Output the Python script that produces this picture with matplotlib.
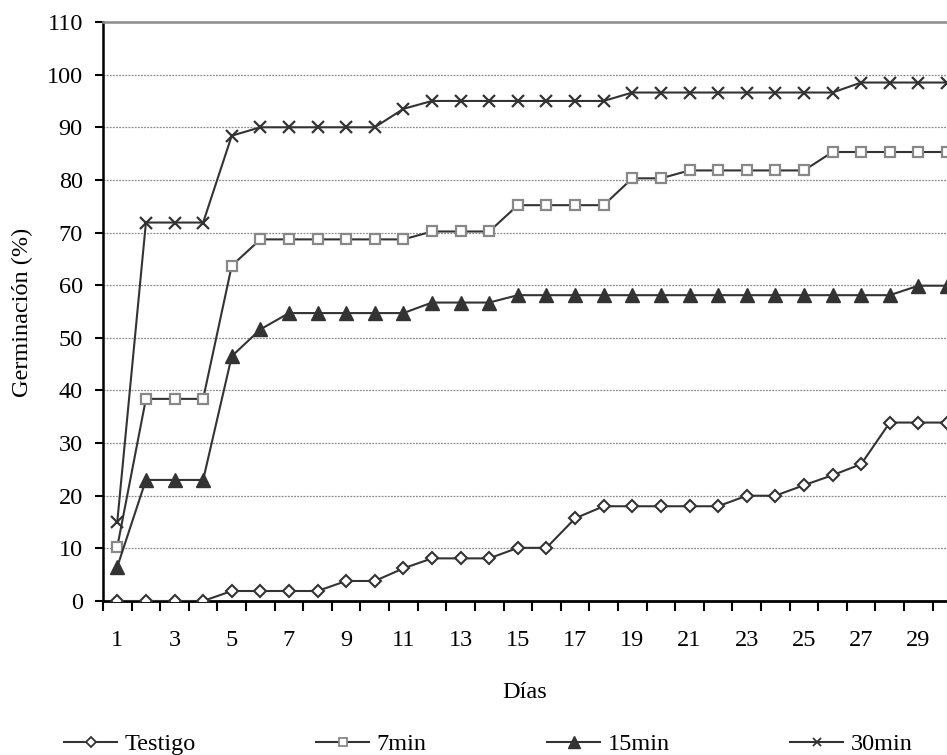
import matplotlib
matplotlib.use("Agg")
import matplotlib.pyplot as plt
from matplotlib.lines import Line2D

plt.rcParams['font.family'] = ['Liberation Serif', 'DejaVu Serif']

dias = list(range(1, 31))
tick_labels = [str(d) for d in range(1, 30, 2)]

testigo = [0, 0, 0, 0, 1.9, 1.9, 1.9, 1.9, 3.8, 3.8, 6.2, 8.1, 8.1, 8.1, 10.1,
           10.1, 15.7, 18.0, 18.0, 18.0, 18.0, 18.0, 20.0, 20.0, 22.0, 23.9, 26.0, 33.9, 33.9, 33.9]
min7 = [10.3, 38.4, 38.4, 38.4, 63.7, 68.7, 68.7, 68.7, 68.7, 68.7, 68.7, 70.2, 70.2, 70.2, 75.2,
        75.2, 75.2, 75.2, 80.3, 80.3, 81.8, 81.8, 81.8, 81.8, 81.8, 85.3, 85.3, 85.3, 85.3, 85.3]
min15 = [6.5, 23.0, 23.0, 23.0, 46.5, 51.6, 54.7, 54.7, 54.7, 54.7, 54.7, 56.7, 56.7, 56.7, 58.1,
         58.1, 58.1, 58.1, 58.1, 58.1, 58.1, 58.1, 58.1, 58.1, 58.1, 58.1, 58.1, 58.1, 59.9, 59.9]
min30 = [15.1, 71.9, 71.9, 71.9, 88.4, 90.0, 90.0, 90.0, 90.0, 90.0, 93.5, 95.0, 95.0, 95.0, 95.0,
         95.0, 95.0, 95.0, 96.6, 96.6, 96.6, 96.6, 96.6, 96.6, 96.6, 96.6, 98.5, 98.5, 98.5, 98.5]
series_names = ['Testigo', '7min', '15min', '30min']

W, H = 947, 755
FS = 17.5
fig = plt.figure(figsize=(W / 100, H / 100), dpi=100)
ax = fig.add_axes([103 / W, 1 - 601 / H, 1 - 103 / W, (601 - 22) / H])

dark = '#333333'
lw = 1.5
ax.plot(dias, testigo, color=dark, lw=lw, marker='D', ms=6.5, mfc='white', mec=dark, mew=1.5, zorder=3)
ax.plot(dias, min7, color=dark, lw=lw, marker='s', ms=7.5, mfc='white', mec='#888888', mew=1.6, zorder=3)
ax.plot(dias, min15, color=dark, lw=lw, marker='^', ms=9.5, mfc=dark, mec=dark, mew=1, zorder=3)
ax.plot(dias, min30, color=dark, lw=lw, marker='x', ms=8.5, mec=dark, mew=1.6, zorder=3)

ax.set_xlim(0.5, 30.0)
ax.set_ylim(0, 110)
ax.set_yticks(range(0, 111, 10))
ax.set_xticks(range(1, 30, 2))
ax.set_xticklabels(tick_labels)
ax.set_xticks([i + 0.5 for i in range(0, 30)], minor=True)
ax.tick_params(axis='x', which='major', length=0, pad=21, labelsize=FS)
ax.tick_params(axis='x', which='minor', length=7, width=1.5, direction='out', color='black')
ax.tick_params(axis='y', length=5.5, width=1.5, direction='out', labelsize=FS, pad=9)

for v in range(10, 101, 10):
    ax.axhline(v, color='#8c8c8c', lw=0.9, ls=(0, (1.5, 1)), zorder=1)
ax.spines['top'].set_color('#8c8c8c')
ax.spines['top'].set_linewidth(1.8)
ax.spines['right'].set_visible(False)
ax.spines['left'].set_linewidth(1.8)
ax.spines['bottom'].set_linewidth(2)

fig.text(22 / W, 1 - 312 / H, 'Germinación (%)', rotation=90, ha='center', va='center', fontsize=FS)
fig.text(525 / W, 1 - 692 / H, 'Días', ha='center', va='center', fontsize=FS)

handles = [
    Line2D([], [], color=dark, lw=lw, marker='D', ms=5.5, mfc='white', mec=dark, mew=1.3),
    Line2D([], [], color=dark, lw=lw, marker='s', ms=5.5, mfc='white', mec='#888888', mew=1.3),
    Line2D([], [], color=dark, lw=lw, marker='^', ms=8, mfc=dark, mec=dark),
    Line2D([], [], color=dark, lw=lw, marker='x', ms=6, mec=dark, mew=1.3),
]
xs = [64, 316, 547, 790]
for h, name, x in zip(handles, series_names, xs):
    fig.legend([h], [name], loc='center left', bbox_to_anchor=(x / W, 1 - 744 / H),
               frameon=False, borderpad=0, borderaxespad=0, handlelength=2.2,
               handletextpad=0.3, fontsize=FS)

fig.savefig('out.png', dpi=100)
